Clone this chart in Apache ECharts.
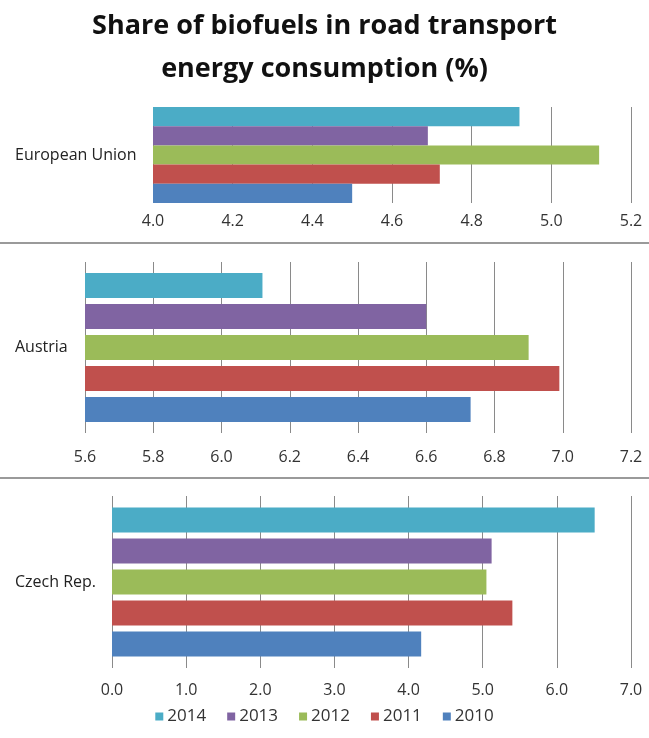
<!DOCTYPE html>
<html>
<head>
<meta charset="utf-8">
<script src="https://cdn.jsdelivr.net/npm/echarts@6/dist/echarts.min.js"></script>
<style>
html, body { margin: 0; padding: 0; background: #ffffff; }
#main { width: 649px; height: 738px; }
</style>
</head>
<body>
<div id="main"></div>
<script>
// years, legend order (top bar first)
var years = ['2014', '2013', '2012', '2011', '2010'];
var colors = ['#4bacc6', '#8064a2', '#9bbb59', '#c0504d', '#4f81bd'];

// one row per country, values in the same order as years
var countries = ['European Union', 'Austria', 'Czech Rep.'];
var euValues = [4.92, 4.69, 5.12, 4.72, 4.50];
var atValues = [6.12, 6.60, 6.90, 6.99, 6.73];
var czValues = [6.51, 5.12, 5.05, 5.40, 4.17];
var allValues = [euValues, atValues, czValues];

// axis ranges per panel
var axisMin = [4.0, 5.6, 0];
var axisMax = [5.2, 7.2, 7];
var axisStep = [0.2, 0.2, 1];

// panel layout
var panels = [
	{top: 107, height: 96, left: 153, barWidth: 19.2, barGap: '0%', labelMargin: 10},
	{top: 262, height: 171, left: 85, barWidth: 25, barGap: '24%', labelMargin: 16},
	{top: 496, height: 172, left: 112, barWidth: 25, barGap: '24%', labelMargin: 14}
];

var txtFont = 'Open Sans';
var grids = [], xAxes = [], yAxes = [], series = [];

for (var p = 0; p < panels.length; p++) {
	var pn = panels[p];
	grids.push({left: pn.left, right: 18, top: pn.top, height: pn.height});
	xAxes.push({
		type: 'value', gridIndex: p,
		min: axisMin[p], max: axisMax[p], interval: axisStep[p],
		axisLine: {show: false}, axisTick: {show: false},
		splitLine: {show: true, lineStyle: {color: '#8a8a8a', width: 1}},
		axisLabel: {
			color: '#333', fontSize: 16, fontFamily: txtFont, margin: pn.labelMargin,
			formatter: function (v) { return v.toFixed(1); }
		}
	});
	yAxes.push({
		type: 'category', gridIndex: p, data: [countries[p]],
		axisLine: {show: false}, axisTick: {show: false},
		axisLabel: {
			color: '#222', fontSize: 16, fontFamily: txtFont,
			align: 'left', margin: pn.left - 15
		}
	});
	// first series lands on top, so 2014 goes first
	for (var i = 0; i < years.length; i++) {
		series.push({
			name: years[i], type: 'bar',
			xAxisIndex: p, yAxisIndex: p,
			data: [allValues[p][i]],
			barWidth: pn.barWidth, barGap: pn.barGap,
			itemStyle: {color: colors[i]},
			silent: true
		});
	}
}

var chart = echarts.init(document.getElementById('main'));
chart.setOption({
	backgroundColor: '#ffffff',
	animation: false,
	title: {
		text: 'Share of biofuels in road transport\nenergy consumption (%)',
		left: 'center', top: 0,
		textStyle: {fontSize: 27, fontWeight: 'bold', color: '#111', fontFamily: txtFont, lineHeight: 43}
	},
	legend: {
		data: years,
		bottom: 8, left: 'center',
		itemWidth: 8, itemHeight: 8, itemGap: 21,
		icon: 'rect',
		textStyle: {fontSize: 17, color: '#333', fontFamily: txtFont, padding: [0, 0, 0, -1]}
	},
	grid: grids,
	xAxis: xAxes,
	yAxis: yAxes,
	series: series,
	graphic: [
		{type: 'line', shape: {x1: 0, y1: 243, x2: 649, y2: 243}, style: {stroke: '#9a9a9a', lineWidth: 2}},
		{type: 'line', shape: {x1: 0, y1: 478, x2: 649, y2: 478}, style: {stroke: '#9a9a9a', lineWidth: 2}}
	]
});
</script>
</body>
</html>
